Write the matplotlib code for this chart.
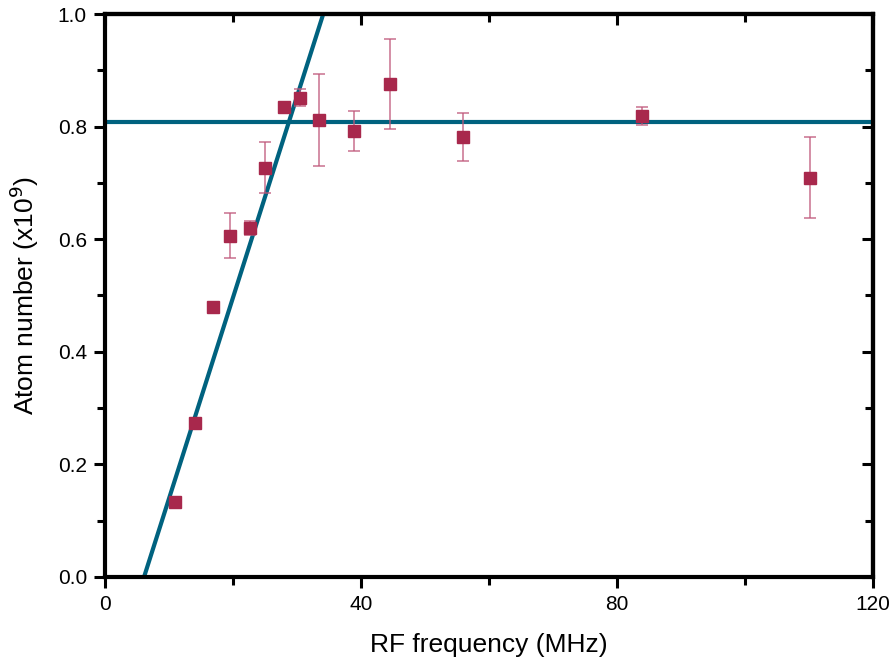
import numpy as np
import matplotlib.pyplot as plt
from matplotlib.ticker import MultipleLocator

plt.rcParams['font.family'] = ['Liberation Sans', 'DejaVu Sans']

# measured points (RF frequency in MHz, atom number in 1e9)
freq = [10.9, 14.1, 16.9, 19.5, 22.7, 25.0, 28.0, 30.5, 33.4, 38.9, 44.5, 55.9, 83.9, 110.2]
atoms = [0.133, 0.274, 0.480, 0.606, 0.620, 0.727, 0.835, 0.851, 0.812, 0.792, 0.876, 0.782, 0.819, 0.709]
err = [0.0, 0.0, 0.0, 0.040, 0.013, 0.045, 0.0, 0.015, 0.082, 0.035, 0.080, 0.043, 0.016, 0.072]

# fits: linear rise and flat plateau
rise_x0 = 6.1      # zero crossing (MHz)
rise_slope = 1 / 28.0
plateau = 0.808

fig = plt.figure(figsize=(8.93, 6.67), dpi=100)
ax = fig.add_axes([0.1176, 0.135, 0.86, 0.844])

line_col = '#00627f'
pt_col = '#a8284c'

xs = np.array([rise_x0, rise_x0 + 1.0 / rise_slope])
ax.plot(xs, rise_slope * (xs - rise_x0), color=line_col, lw=3.0, zorder=2)
ax.axhline(plateau, color=line_col, lw=3.0, zorder=2)

ax.errorbar(freq, atoms, yerr=err, fmt='none', ecolor='#c0587a', elinewidth=1.1,
            capsize=4.5, capthick=1.1, alpha=0.85, zorder=3)
ax.plot(freq, atoms, 's', color=pt_col, ms=9, zorder=4)

ax.set_xlim(0, 120)
ax.set_ylim(0, 1.0)
ax.xaxis.set_major_locator(MultipleLocator(40))
ax.xaxis.set_minor_locator(MultipleLocator(20))
ax.yaxis.set_major_locator(MultipleLocator(0.2))
ax.yaxis.set_minor_locator(MultipleLocator(0.1))
ax.yaxis.set_major_formatter(plt.FormatStrFormatter('%.1f'))

sw = 3.0
for s in ax.spines.values():
    s.set_linewidth(sw)

ax.tick_params(which='both', direction='out', width=2.2, labelsize=15, top=False, right=False)
ax.tick_params(which='major', length=8, pad=5)
ax.tick_params(which='minor', length=6)

# inward ticks on the top and right edges
axt = ax.secondary_xaxis('top')
axt.xaxis.set_major_locator(MultipleLocator(40))
axt.xaxis.set_minor_locator(MultipleLocator(20))
axt.tick_params(which='both', direction='in', width=2.2, labeltop=False)
axt.tick_params(which='major', length=8)
axt.tick_params(which='minor', length=6)
axr = ax.secondary_yaxis('right')
axr.yaxis.set_major_locator(MultipleLocator(0.2))
axr.yaxis.set_minor_locator(MultipleLocator(0.1))
axr.tick_params(which='both', direction='in', width=2.2, labelright=False)
axr.tick_params(which='major', length=8)
axr.tick_params(which='minor', length=6)
axt.spines['top'].set_linewidth(sw)
axr.spines['right'].set_linewidth(sw)

ax.set_xlabel('RF frequency (MHz)', fontsize=19, labelpad=14)
ax.set_ylabel('Atom number (x10$^9$)', fontsize=19, labelpad=12)

fig.savefig('out.png', dpi=100)
